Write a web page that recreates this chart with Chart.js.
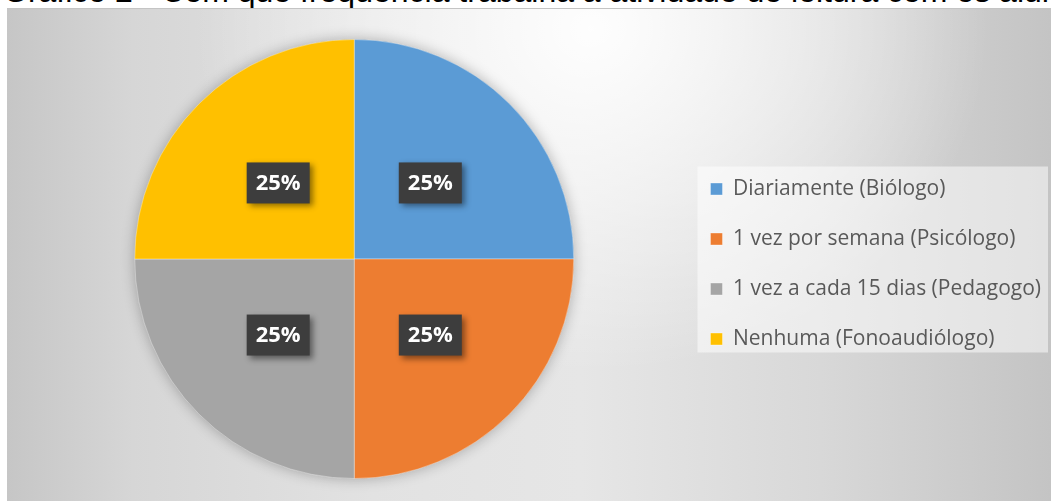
<!DOCTYPE html>
<html lang="pt">
<head>
<meta charset="utf-8">
<title>Gráfico 2</title>
<script src="https://cdn.jsdelivr.net/npm/chart.js@4.4.1/dist/chart.umd.min.js"></script>
<style>
  html, body { margin: 0; padding: 0; background: #ffffff; overflow: hidden; }
  body { width: 1051px; height: 501px; position: relative; }
  #titulo {
    position: absolute; left: 3px; top: -25px;
    font-family: "Liberation Sans", Arial, sans-serif;
    font-size: 32px; line-height: 32px; color: #000;
    white-space: nowrap;
  }
  #area {
    position: absolute; left: 7px; top: 8px; width: 1044px; height: 493px;
    background:
      radial-gradient(ellipse 38% 70% at 56% 4%, rgba(255,255,255,0.95) 0%, rgba(255,255,255,0.5) 50%, rgba(255,255,255,0) 100%),
      linear-gradient(to right, #c6c6c6 0%, #d6d6d6 12%, #e2e2e2 35%, #e6e6e6 55%, #d8d8d8 78%, #c4c4c4 100%);
    border-top: 1px solid #c4c4c4;
    box-sizing: border-box;
  }
  #grafico { display: block; }
</style>
</head>
<body>
<div id="titulo">Gráfico 2 - Com que frequência trabalha a atividade de leitura com os alunos?</div>
<div id="area"><canvas id="grafico" width="1044" height="492"></canvas></div>
<script>
// categorias e valores (%)
const categorias = [
    'Diariamente (Biólogo)',
    '1 vez por semana (Psicólogo)',
    '1 vez a cada 15 dias (Pedagogo)',
    'Nenhuma (Fonoaudiólogo)'
];
const valores = [25, 25, 25, 25];
const cores = ['#5B9BD5', '#ED7D31', '#A5A5A5', '#FFC000'];

// sombra discreta por baixo da pizza
const sombraPizza = {
    id: 'sombraPizza',
    beforeDatasetsDraw(chart) {
        const arc = chart.getDatasetMeta(0).data[0];
        if (!arc) return;
        const { x, y, outerRadius } = arc.getProps(['x', 'y', 'outerRadius'], true);
        const ctx = chart.ctx;
        ctx.save();
        ctx.shadowColor = 'rgba(0,0,0,0.28)';
        ctx.shadowBlur = 14;
        ctx.beginPath();
        ctx.arc(x, y, outerRadius, 0, Math.PI * 2);
        ctx.fillStyle = '#b0b0b0';
        ctx.fill();
        ctx.restore();
    }
};

// fundo claro atrás da legenda
const fundoLegenda = {
    id: 'fundoLegenda',
    beforeDraw(chart) {
        const boxes = chart.legend && chart.legend.legendHitBoxes;
        if (!boxes || !boxes.length) return;
        const left = Math.min(...boxes.map(b => b.left)) - 13;
        const top = Math.min(...boxes.map(b => b.top)) - 12;
        const bottom = Math.max(...boxes.map(b => b.top + b.height)) + 3;
        const right = chart.width - 3;
        const ctx = chart.ctx;
        ctx.save();
        ctx.fillStyle = 'rgba(255,255,255,0.5)';
        ctx.fillRect(left, top, right - left, bottom - top);
        ctx.restore();
    }
};

// rótulos de percentagem em caixas escuras
const rotulos = {
    id: 'rotulos',
    afterDatasetsDraw(chart) {
        const ctx = chart.ctx;
        const meta = chart.getDatasetMeta(0);
        const total = valores.reduce((a, b) => a + b, 0);
        meta.data.forEach((arc, i) => {
            const p = arc.getProps(['x', 'y', 'startAngle', 'endAngle', 'outerRadius'], true);
            const mid = (p.startAngle + p.endAngle) / 2;
            const r = p.outerRadius * 0.49;
            const cx = p.x + Math.cos(mid) * r;
            const cy = p.y + Math.sin(mid) * r;
            const w = 63, h = 41;
            ctx.save();
            ctx.shadowColor = 'rgba(0,0,0,0.45)';
            ctx.shadowBlur = 6;
            ctx.shadowOffsetX = 3;
            ctx.shadowOffsetY = 3;
            ctx.fillStyle = '#3d3d3d';
            ctx.fillRect(cx - w / 2, cy - h / 2, w, h);
            ctx.restore();
            ctx.save();
            ctx.fillStyle = '#ffffff';
            ctx.font = 'bold 22px "Open Sans", sans-serif';
            ctx.textAlign = 'center';
            ctx.textBaseline = 'middle';
            ctx.fillText(Math.round(valores[i] / total * 100) + '%', cx, cy + 1);
            ctx.restore();
        });
    }
};

new Chart(document.getElementById('grafico'), {
    type: 'pie',
    data: {
        labels: categorias,
        datasets: [{
            data: valores,
            backgroundColor: cores,
            borderColor: 'rgba(255,255,255,0.35)',
            borderWidth: 1
        }]
    },
    options: {
        responsive: false,
        animation: false,
        layout: {
            padding: { left: 20, top: 30, bottom: 22, right: 0 }
        },
        plugins: {
            legend: {
                position: 'right',
                maxWidth: 372,
                // título vazio só para descer os itens alguns pixels
                title: { display: true, text: ' ', font: { size: 5 }, padding: 2 },
                labels: {
                    boxWidth: 12,
                    boxHeight: 12,
                    padding: 29,
                    color: '#595959',
                    font: { family: '"Open Sans", sans-serif', size: 21 }
                }
            },
            tooltip: { enabled: false }
        }
    },
    plugins: [fundoLegenda, sombraPizza, rotulos]
});
</script>
</body>
</html>
